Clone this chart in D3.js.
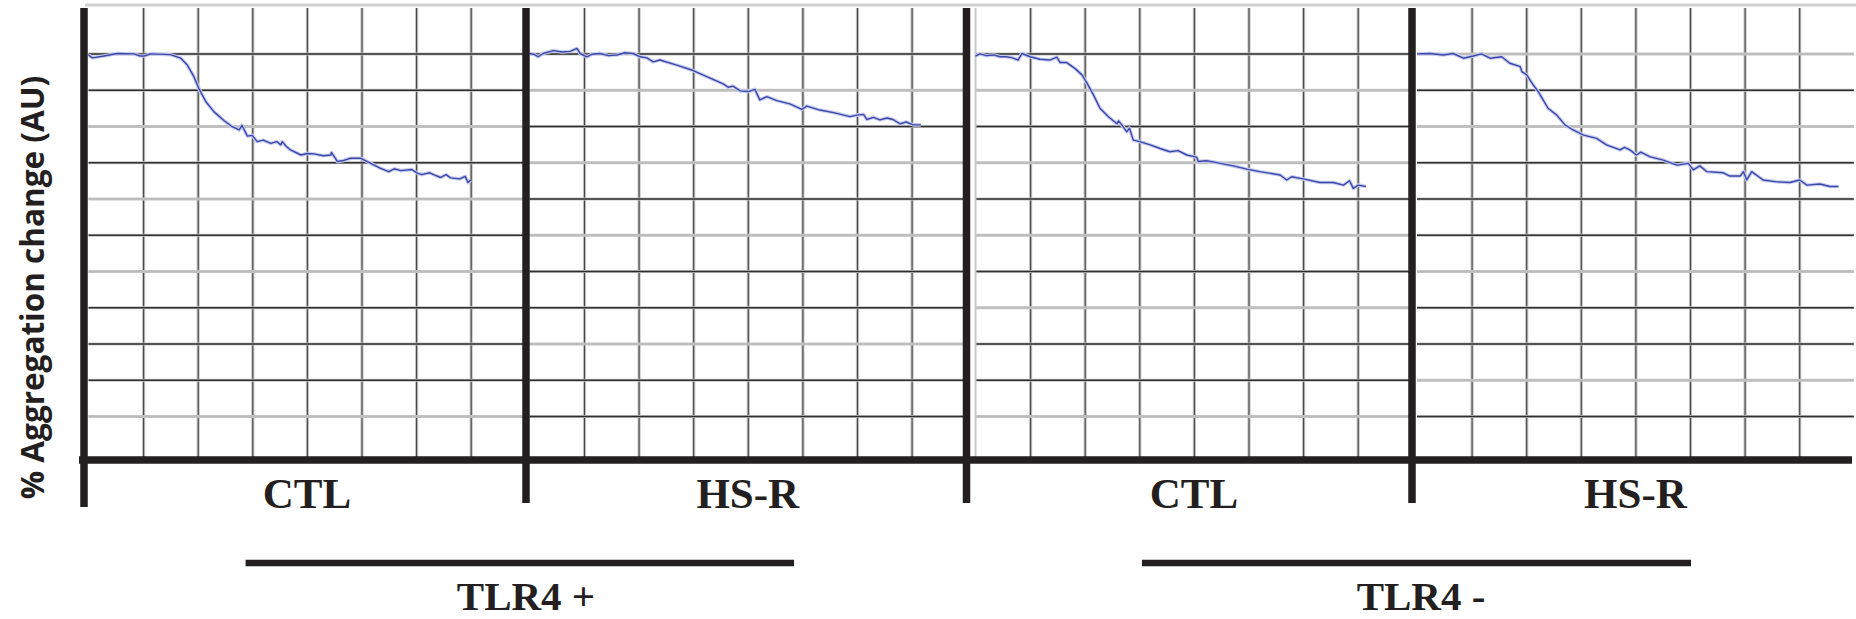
<!DOCTYPE html>
<html><head><meta charset="utf-8">
<script src="https://cdn.jsdelivr.net/npm/d3@7"></script>
<style>html,body{margin:0;padding:0;background:#fff;} svg{display:block;}</style>
</head><body><svg id="c" width="1856" height="619"></svg>
<script>
// ---------------- DATA ----------------
const conditions = ["CTL", "HS-R", "CTL", "HS-R"];
const groups = ["TLR4 +", "TLR4 -"];
const gridValues = [0, 10, 20, 30, 40, 50, 60, 70, 80, 90, 100];
const timeTicks = [1, 2, 3, 4, 5, 6, 7];
const yLabel = "% Aggregation change (AU)";

// [time (grid divisions), % aggregation change]
const ctlTLR4pos = [[0,0.4],[0.07,1.2],[0.28,0.7],[0.53,0],[0.83,0.1],[0.95,0.7],[1.02,0.7],[1.14,0.1],[1.5,0.3],[1.69,1.3],[1.81,3.2],[1.93,6.4],[2.02,9.6],[2.15,13.3],[2.3,16.1],[2.48,18.5],[2.63,20.2],[2.76,21.1],[2.81,19.8],[2.91,22.8],[3.0,22.6],[3.09,24.3],[3.2,23.9],[3.34,24.8],[3.45,24.3],[3.52,25.2],[3.55,24.3],[3.62,25.6],[3.7,26.6],[3.89,28],[4.0,27.6],[4.13,27.7],[4.3,28.2],[4.44,28],[4.45,27.3],[4.56,29.8],[4.65,29.6],[4.8,28.9],[4.99,28.9],[5.17,30.3],[5.35,31.7],[5.5,32.6],[5.6,31.8],[5.72,32.3],[5.92,32.0],[6.02,33],[6.1,33.4],[6.25,32.9],[6.33,33.5],[6.45,34.2],[6.55,33.4],[6.63,34.3],[6.8,34.6],[6.9,33.9],[6.95,35.6],[7.0,34.9]];
const hsrTLR4pos = [[0,0],[0.08,0.2],[0.16,0.9],[0.25,0],[0.44,-0.8],[0.6,-0.4],[0.75,-0.6],[0.87,-1.4],[0.93,0],[1.05,0.9],[1.15,0.2],[1.29,0],[1.45,0.6],[1.6,0.4],[1.75,-0.2],[1.9,0],[2.03,0.9],[2.15,1.2],[2.27,2.3],[2.39,1.8],[2.7,3.2],[3.0,4.7],[3.31,6.8],[3.55,8.4],[3.64,9.3],[3.73,9.0],[3.86,10.3],[4.01,10.5],[4.13,9.9],[4.22,12.8],[4.35,11.9],[4.53,13],[4.77,13.9],[4.99,15.4],[5.08,14.5],[5.32,15.6],[5.57,16.3],[5.87,17.4],[6.0,17.0],[6.12,16.8],[6.18,18.2],[6.3,17.6],[6.42,18.3],[6.55,17.8],[6.66,18.2],[6.79,19.4],[6.9,18.9],[7.03,19.7],[7.17,19.7]];
const ctlTLR4neg = [[0,0.7],[0.08,0.1],[0.2,0.6],[0.33,0.4],[0.45,0.9],[0.57,0.9],[0.68,1.2],[0.78,1.8],[0.85,0],[1.0,0.9],[1.18,1.6],[1.36,1.8],[1.49,1.0],[1.55,2.5],[1.67,2.5],[1.82,4.1],[1.95,5.9],[2.04,8.1],[2.16,11.4],[2.28,15.1],[2.43,17.4],[2.59,19.4],[2.62,18.6],[2.68,19.7],[2.77,21.6],[2.82,20.6],[2.89,23.9],[3.01,24.3],[3.2,25.2],[3.38,26.2],[3.56,27.1],[3.71,26.8],[3.87,28],[4.05,28.6],[4.08,29.8],[4.23,29.6],[4.42,30.1],[4.72,31],[4.97,31.9],[5.21,32.6],[5.58,33.5],[5.7,34.9],[5.79,34],[6.0,34.6],[6.31,35.6],[6.55,35.6],[6.74,36.3],[6.85,35.1],[6.92,37.2],[7.01,36.3],[7.15,36.7]];
const hsrTLR4neg = [[0,0.1],[0.24,0],[0.48,0.4],[0.66,0],[0.85,1.3],[1.03,0.7],[1.18,0.1],[1.34,1.3],[1.55,0.9],[1.7,2.7],[1.89,3.6],[1.92,5.0],[2.01,5.9],[2.13,8.7],[2.22,10.5],[2.31,12.8],[2.4,15.1],[2.56,17],[2.71,19.7],[2.86,21.1],[3.05,22.5],[3.29,23.4],[3.47,25.2],[3.72,26.6],[3.8,25.9],[3.9,26.6],[4.02,28],[4.1,27.2],[4.27,28.5],[4.51,29.4],[4.76,30.8],[4.97,30.3],[5.06,32.1],[5.18,31],[5.31,32.6],[5.61,32.9],[5.73,33.8],[5.92,33.8],[5.98,32.6],[6.04,34.9],[6.13,32.6],[6.34,34.9],[6.59,35.4],[6.83,35.6],[7.01,34.9],[7.14,36.3],[7.38,36],[7.56,36.7],[7.72,36.7]];
const series = [ctlTLR4pos, hsrTLR4pos, ctlTLR4neg, hsrTLR4neg];

// ---------------- LAYOUT / STYLE ----------------
const panelLeft = [88.5, 529.4, 975.5, 1417];
const panelWidth = 436.8;
const plotTop = 5, plotBottom = 460;
const separators = [84, 526, 966.5, 1412];
const sepBottom = [507, 503, 503, 503];
const groupLabelX = [526, 1421];
const bracketExtent = [[245.6, 794], [1142, 1691]];
const ink = "#231f20";
// scan look: which horizontal rules print dark (1) or light grey (0), per panel
const hShade = [
  [1,1,0,1,0,1,0,1,1,1,0],
  [1,0,1,0,1,0,1,1,0,1,1],
  [1,0,1,0,1,0,1,0,1,1,0],
  [0,1,0,1,1,1,0,1,1,0,1]
];

const svg = d3.select("#c");
const y = d3.scaleLinear().domain([0, 100]).range([53.5, 416]);

// top light border
svg.append("line").attr("x1", 85).attr("x2", 1856).attr("y1", 5).attr("y2", 5)
  .attr("stroke", "#d0d0d0").attr("stroke-width", 3);

series.forEach((data, i) => {
  const L = panelLeft[i];
  const x = d3.scaleLinear().domain([0, 8]).range([L, L + panelWidth]);
  const g = svg.append("g");
  const w = panelWidth;

  // vertical rules
  ["halo", "core"].forEach(kind => {
    const vg = g.append("g").attr("transform", `translate(0,${plotBottom})`)
      .call(d3.axisBottom(x).tickValues(timeTicks).tickSize(-(plotBottom - 8)).tickFormat(""));
    vg.select(".domain").remove();
    vg.selectAll(".tick line")
      .attr("stroke", kind === "halo" ? "#c4c4c4" : "#454545")
      .attr("stroke-width", kind === "halo" ? 3.2 : 1.1);
  });

  // horizontal rules
  ["halo", "core"].forEach(kind => {
    const hg = g.append("g").attr("transform", `translate(${L},0)`)
      .call(d3.axisLeft(y).tickValues(gridValues).tickSize(-w).tickFormat(""));
    hg.select(".domain").remove();
    hg.selectAll(".tick line").each(function(d, k) {
      const dark = hShade[i][k] === 1;
      d3.select(this)
        .attr("stroke", kind === "halo" ? "#c6c6c6" : (dark ? "#2e2e2e" : "#bdbdbd"))
        .attr("stroke-width", kind === "halo" ? 3.2 : (dark ? 1.3 : 2.2));
    });
  });

  if (i === 2) {
    g.append("line").attr("x1", x(0)).attr("x2", x(0)).attr("y1", 8).attr("y2", plotBottom)
      .attr("stroke", "#c8c8c8").attr("stroke-width", 2);
  }

  const line = d3.line().x(d => x(d[0])).y(d => y(d[1]));
  g.append("path").datum(data).attr("d", line).attr("fill", "none")
    .attr("stroke", "#c9cbef").attr("stroke-width", 3.6).attr("stroke-linejoin", "round");
  g.append("path").datum(data).attr("d", line).attr("fill", "none")
    .attr("stroke", "#3a48a8").attr("stroke-width", 1.4).attr("stroke-linejoin", "round");

  svg.append("text").attr("x", x(4)).attr("y", 508).attr("text-anchor", "middle")
    .attr("font-family", "'Liberation Serif', 'Times New Roman', serif").attr("font-weight", "bold")
    .attr("font-size", 43).attr("fill", ink).text(conditions[i]);
});

// thick separators
separators.forEach((sx, i) => {
  svg.append("line").attr("x1", sx).attr("x2", sx).attr("y1", 8).attr("y2", sepBottom[i])
    .attr("stroke", ink).attr("stroke-width", 7.5);
});
// bottom axis
svg.append("line").attr("x1", 79).attr("x2", 1852).attr("y1", plotBottom).attr("y2", plotBottom)
  .attr("stroke", ink).attr("stroke-width", 7.5);

// group brackets and labels
groups.forEach((gname, i) => {
  svg.append("line").attr("x1", bracketExtent[i][0]).attr("x2", bracketExtent[i][1])
    .attr("y1", 563).attr("y2", 563).attr("stroke", ink).attr("stroke-width", 6.5);
  svg.append("text").attr("x", groupLabelX[i]).attr("y", 610).attr("text-anchor", "middle")
    .attr("font-family", "'Liberation Serif', 'Times New Roman', serif").attr("font-weight", "bold")
    .attr("font-size", 41).attr("fill", ink).text(gname);
});

// y label
svg.append("text").attr("transform", "translate(44,287.5) rotate(-90)")
  .attr("text-anchor", "middle").attr("font-family", "'Open Sans', sans-serif")
  .attr("font-weight", "bold").attr("font-size", 31.5).attr("fill", ink).text(yLabel);
</script></body></html>
